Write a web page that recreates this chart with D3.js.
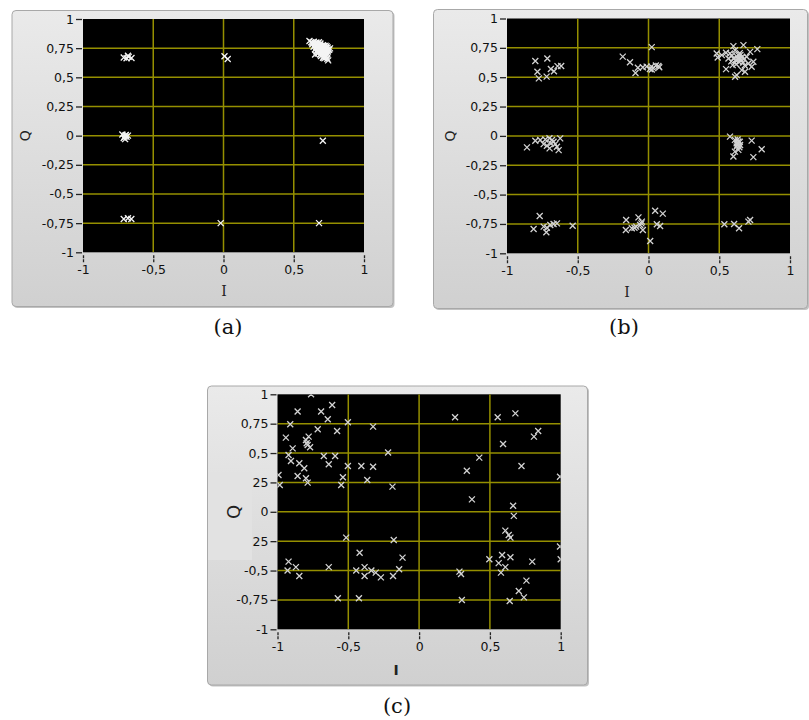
<!DOCTYPE html>
<html>
<head>
<meta charset="utf-8">
<script src="https://cdn.jsdelivr.net/npm/d3@7"></script>
<style>
html,body{margin:0;padding:0;background:#fff;}
svg{display:block;}
</style>
</head>
<body>
<svg id="chart" width="809" height="720"></svg>
<script>
// ---------- data ----------
const xTicks = [-1, -0.5, 0, 0.5, 1];
const xTickLabels = ["-1", "-0,5", "0", "0,5", "1"];
const yTicks = [1, 0.75, 0.5, 0.25, 0, -0.25, -0.5, -0.75, -1];
const yTickLabels = ["1", "0,75", "0,5", "0,25", "0", "-0,25", "-0,5", "-0,75", "-1"];
const captions = ["(a)", "(b)", "(c)"];

// panel (a) constellation points [I, Q]
const pointsA = [
  [-0.71,0.67],[-0.68,0.685],[-0.655,0.666],[-0.69,0.663],[-0.675,0.675],
  [0.007,0.68],[0.03,0.657],
  [-0.72,0.01],[-0.70,0.0],[-0.69,-0.01],[-0.71,-0.02],[-0.68,0.0],[-0.70,-0.03],[-0.695,0.005],[-0.705,-0.01],
  [0.707,-0.043],
  [-0.71,-0.714],[-0.68,-0.708],[-0.656,-0.714],
  [-0.02,-0.75],[0.68,-0.75],
  // dense cluster near (0.7, 0.75)
  [0.612,0.812],[0.625,0.80],[0.642,0.805],[0.661,0.798],[0.679,0.801],
  [0.632,0.783],[0.651,0.779],[0.668,0.785],[0.688,0.781],[0.707,0.776],[0.726,0.772],
  [0.641,0.762],[0.659,0.758],[0.679,0.764],[0.698,0.757],[0.718,0.761],[0.741,0.755],
  [0.652,0.741],[0.671,0.738],[0.689,0.744],[0.709,0.737],[0.731,0.742],[0.752,0.736],
  [0.662,0.722],[0.681,0.718],[0.702,0.724],[0.721,0.717],[0.743,0.721],
  [0.671,0.703],[0.692,0.698],[0.713,0.704],[0.734,0.697],
  [0.693,0.682],[0.712,0.678],[0.731,0.684],
  [0.718,0.663],[0.739,0.659],[0.745,0.645],[0.758,0.748],[0.652,0.695],
  [0.633,0.792],[0.652,0.79],[0.671,0.793],[0.69,0.79],[0.715,0.768],[0.734,0.765],
  [0.648,0.771],[0.668,0.772],[0.688,0.769],[0.708,0.766],[0.729,0.751],[0.745,0.738],
  [0.661,0.75],[0.68,0.751],[0.7,0.748],[0.72,0.749],[0.739,0.731],
  [0.668,0.731],[0.686,0.73],[0.706,0.731],[0.725,0.729],[0.676,0.712],[0.697,0.71],
  [0.717,0.711],[0.737,0.709],[0.702,0.69],[0.722,0.691],[0.727,0.671],[0.708,0.668]
];

// panel (b) constellation points [I, Q]
const pointsB = [
  // top-left
  [-0.80,0.638],[-0.785,0.547],[-0.775,0.49],[-0.715,0.66],[-0.72,0.505],[-0.69,0.57],[-0.668,0.551],[-0.643,0.594],[-0.617,0.595],
  // top-middle
  [-0.182,0.675],[-0.131,0.627],[-0.092,0.536],[-0.075,0.58],[-0.04,0.585],[-0.013,0.59],[0.01,0.57],[0.023,0.565],
  [0.034,0.577],[0.052,0.6],[0.07,0.595],[0.076,0.585],[0.023,0.756],[0.02,0.59],
  // top-right
  [0.482,0.702],[0.489,0.668],[0.518,0.688],[0.548,0.708],[0.576,0.702],[0.60,0.765],[0.612,0.73],[0.635,0.688],
  [0.647,0.66],[0.671,0.773],[0.694,0.674],[0.718,0.716],[0.741,0.631],[0.769,0.739],[0.548,0.569],[0.595,0.603],
  [0.612,0.504],[0.624,0.518],[0.659,0.56],[0.682,0.546],[0.706,0.617],[0.729,0.589],
  [0.60,0.66],[0.615,0.645],[0.625,0.675],[0.632,0.655],[0.64,0.63],[0.65,0.69],[0.655,0.645],[0.662,0.67],
  [0.668,0.625],[0.675,0.655],[0.585,0.635],[0.59,0.685],[0.62,0.61],[0.645,0.705],[0.68,0.6],[0.565,0.66],
  // middle-left
  [-0.859,-0.098],[-0.80,-0.041],[-0.765,-0.035],[-0.741,-0.07],[-0.729,-0.03],[-0.718,-0.084],[-0.699,-0.106],
  [-0.682,-0.035],[-0.671,-0.05],[-0.659,-0.07],[-0.647,-0.092],[-0.624,-0.021],[-0.635,-0.121],[-0.689,-0.064],[-0.70,-0.02],
  // middle-right
  [0.576,-0.006],[0.611,-0.034],[0.635,-0.048],[0.623,-0.091],[0.611,-0.134],[0.60,-0.176],[0.635,-0.119],[0.647,-0.077],
  [0.729,-0.04],[0.80,-0.113],[0.741,-0.181],[0.623,-0.063],[0.642,-0.097],[0.63,-0.03],[0.645,-0.05],[0.628,-0.075],
  // bottom-left
  [-0.812,-0.793],[-0.769,-0.682],[-0.741,-0.773],[-0.722,-0.821],[-0.694,-0.759],[-0.671,-0.75],[-0.647,-0.745],[-0.536,-0.765],[-0.718,-0.782],
  // bottom-middle
  [-0.158,-0.716],[-0.16,-0.801],[-0.118,-0.787],[-0.099,-0.782],[-0.071,-0.694],[-0.059,-0.759],[-0.047,-0.73],[-0.04,-0.801],
  [0.012,-0.895],[0.047,-0.638],[0.059,-0.752],[0.082,-0.767],[0.101,-0.662],[-0.087,-0.773],[-0.05,-0.745],
  // bottom-right
  [0.536,-0.753],[0.605,-0.75],[0.64,-0.787],[0.706,-0.73],[0.718,-0.716]
];

// panel (c) constellation points [I, Q]
const pointsC = [
  [-0.763,1.0],[-0.858,0.853],[-0.692,0.853],[-0.614,0.909],[-0.645,0.787],[-0.91,0.745],[-0.716,0.702],[-0.579,0.688],
  [-0.503,0.762],[-0.325,0.725],[-0.941,0.631],[-0.893,0.54],[-0.922,0.484],[-0.905,0.433],[-0.799,0.611],[-0.787,0.569],
  [-0.78,0.64],[-0.794,0.584],[-0.77,0.549],[-0.846,0.413],[-0.811,0.37],[-0.858,0.305],[-0.799,0.285],[-0.787,0.248],
  [-0.993,0.313],[-0.984,0.228],[-0.673,0.475],[-0.593,0.475],[-0.638,0.404],[-0.503,0.39],[-0.408,0.39],[-0.325,0.384],
  [-0.538,0.294],[-0.55,0.228],[-0.366,0.271],[-0.219,0.504],[-0.188,0.214],
  [0.254,0.804],[0.555,0.804],[0.68,0.838],[0.841,0.688],[0.811,0.64],[0.593,0.577],[0.723,0.39],[0.425,0.461],
  [0.337,0.35],[0.373,0.106],[0.995,0.299],
  [0.664,0.052],[0.669,-0.035],[0.609,-0.16],[0.633,-0.197],[0.645,-0.22],[0.995,-0.296],[1.0,-0.404],[0.496,-0.404],
  [0.586,-0.367],[0.645,-0.387],[0.562,-0.437],[0.609,-0.471],[0.578,-0.518],[0.799,-0.424],[0.758,-0.586],[0.704,-0.674],
  [0.74,-0.728],[0.64,-0.759],[0.285,-0.509],[0.296,-0.529],[0.302,-0.75],
  [-0.515,-0.22],[-0.179,-0.24],[-0.42,-0.348],[-0.117,-0.39],[-0.141,-0.489],[-0.184,-0.546],[-0.27,-0.558],[-0.306,-0.518],
  [-0.337,-0.5],[-0.385,-0.471],[-0.385,-0.546],[-0.444,-0.5],[-0.922,-0.424],[-0.929,-0.5],[-0.87,-0.471],[-0.846,-0.546],
  [-0.638,-0.471],[-0.574,-0.736],[-0.425,-0.736]
];

// ---------- layout ----------
const panels = [
  {id:"a", pts: pointsA, frame:{x:12, y:10.5, w:381, h:296}, plot:{x0:83, x1:364, y0:19, y1:252.3},
   qx:25, ix:224, iy:296, cap:{x:228, y:334}, mark:"#f4f4f4", qsize:14},
  {id:"b", pts: pointsB, frame:{x:433.5, y:9.5, w:374, h:299}, plot:{x0:507, x1:790, y0:18.5, y1:253.3},
   qx:450, ix:627, iy:297, cap:{x:624, y:334}, mark:"#d2d2d2", qsize:14},
  {id:"c", pts: pointsC, frame:{x:207.5, y:386, w:380, h:299}, plot:{x0:277.5, x1:560.7, y0:394.3, y1:629.3},
   qx:233, ix:396, iy:675, cap:{x:397, y:713}, mark:"#d2d2d2", qsize:18}
];

const svg = d3.select("#chart");
const defs = svg.append("defs");
const grad = defs.append("linearGradient").attr("id","frameGrad").attr("x1",0).attr("y1",0).attr("x2",0).attr("y2",1);
grad.append("stop").attr("offset","0%").attr("stop-color","#eaeaea");
grad.append("stop").attr("offset","100%").attr("stop-color","#d0d0d0");

const gridColor = "#958f00";
const labelFont = "DejaVu Sans, Verdana, sans-serif";

panels.forEach((p, i) => {
  const g = svg.append("g");
  const f = p.frame;
  // frame shadow + frame
  g.append("rect").attr("x", f.x+1.5).attr("y", f.y+1.5).attr("width", f.w).attr("height", f.h)
    .attr("rx", 4).attr("fill", "#9a9a9a").attr("opacity", 0.6);
  g.append("rect").attr("x", f.x).attr("y", f.y).attr("width", f.w).attr("height", f.h)
    .attr("rx", 4).attr("fill", "url(#frameGrad)").attr("stroke", "#a8a8a8").attr("stroke-width", 1);

  const x = d3.scaleLinear().domain([-1, 1]).range([p.plot.x0, p.plot.x1]);
  const y = d3.scaleLinear().domain([-1, 1]).range([p.plot.y1, p.plot.y0]);

  // plot background
  g.append("rect").attr("x", x(-1)).attr("y", y(1)).attr("width", x(1)-x(-1)).attr("height", y(-1)-y(1))
    .attr("fill", "#000");

  const clipId = "clip-" + p.id;
  defs.append("clipPath").attr("id", clipId).append("rect")
    .attr("x", x(-1)).attr("y", y(1)).attr("width", x(1)-x(-1)).attr("height", y(-1)-y(1));

  const plotG = g.append("g").attr("clip-path", `url(#${clipId})`);
  // grid
  plotG.selectAll(".gx").data(xTicks.slice(1, -1)).join("line")
    .attr("x1", d => x(d)).attr("x2", d => x(d)).attr("y1", y(1)).attr("y2", y(-1))
    .attr("stroke", gridColor).attr("stroke-width", 1.5);
  plotG.selectAll(".gy").data(yTicks.slice(1, -1)).join("line")
    .attr("y1", d => y(d)).attr("y2", d => y(d)).attr("x1", x(-1)).attr("x2", x(1))
    .attr("stroke", gridColor).attr("stroke-width", 1.5);

  // markers
  plotG.selectAll(".pt").data(p.pts).join("path")
    .attr("transform", d => `translate(${x(d[0])},${y(d[1])})`)
    .attr("d", "M-3,-3L3,3M-3,3L3,-3")
    .attr("stroke", p.mark).attr("stroke-width", 1.3).attr("fill", "none");

  // y axis
  const yAxis = d3.axisLeft(y).tickValues(yTicks).tickSize(6).tickPadding(2)
    .tickFormat((d, k) => yTickLabels[k]);
  const ya = g.append("g").attr("transform", `translate(${x(-1) - 1},0)`).call(yAxis);
  ya.select(".domain").remove();
  ya.selectAll(".tick line").attr("stroke", "#222").attr("stroke-width", 1.3);
  ya.selectAll(".tick text").attr("font-family", labelFont).attr("font-size", 12.5).attr("fill", "#111");

  // x axis
  const xAxis = d3.axisBottom(x).tickValues(xTicks).tickSize(7).tickPadding(3)
    .tickFormat((d, k) => xTickLabels[k]);
  const xa = g.append("g").attr("transform", `translate(0,${y(-1) + 3})`).call(xAxis);
  xa.select(".domain").remove();
  xa.selectAll(".tick line").attr("stroke", "#222").attr("stroke-width", 1.3).attr("stroke-dasharray", "3,1");
  xa.selectAll(".tick text").attr("font-family", labelFont).attr("font-size", 12.5).attr("fill", "#111");

  // panel (c): lighter overlay box covering part of the y labels
  if (p.id === "c") {
    g.append("rect").attr("x", f.x + 0.5).attr("y", 472).attr("width", 44).attr("height", 88)
      .attr("fill", "#e2e2e2");
  }

  // axis titles
  g.append("text").attr("x", p.ix).attr("y", p.iy).attr("text-anchor", "middle")
    .attr("font-family", p.id === "c" ? labelFont : "DejaVu Serif, serif")
    .attr("font-weight", p.id === "c" ? "bold" : "normal")
    .attr("font-size", 14).attr("fill", "#222").text("I");
  g.append("text").attr("transform", `translate(${p.qx},${y(0)}) rotate(-90)`)
    .attr("text-anchor", "middle").attr("dominant-baseline", "central")
    .attr("font-family", labelFont).attr("font-size", p.qsize).attr("fill", "#222").text("Q");

  // caption
  svg.append("text").attr("x", p.cap.x).attr("y", p.cap.y).attr("text-anchor", "middle")
    .attr("font-family", "DejaVu Serif, serif").attr("font-size", 21).attr("fill", "#111").text(captions[i]);
});
</script>
</body>
</html>
